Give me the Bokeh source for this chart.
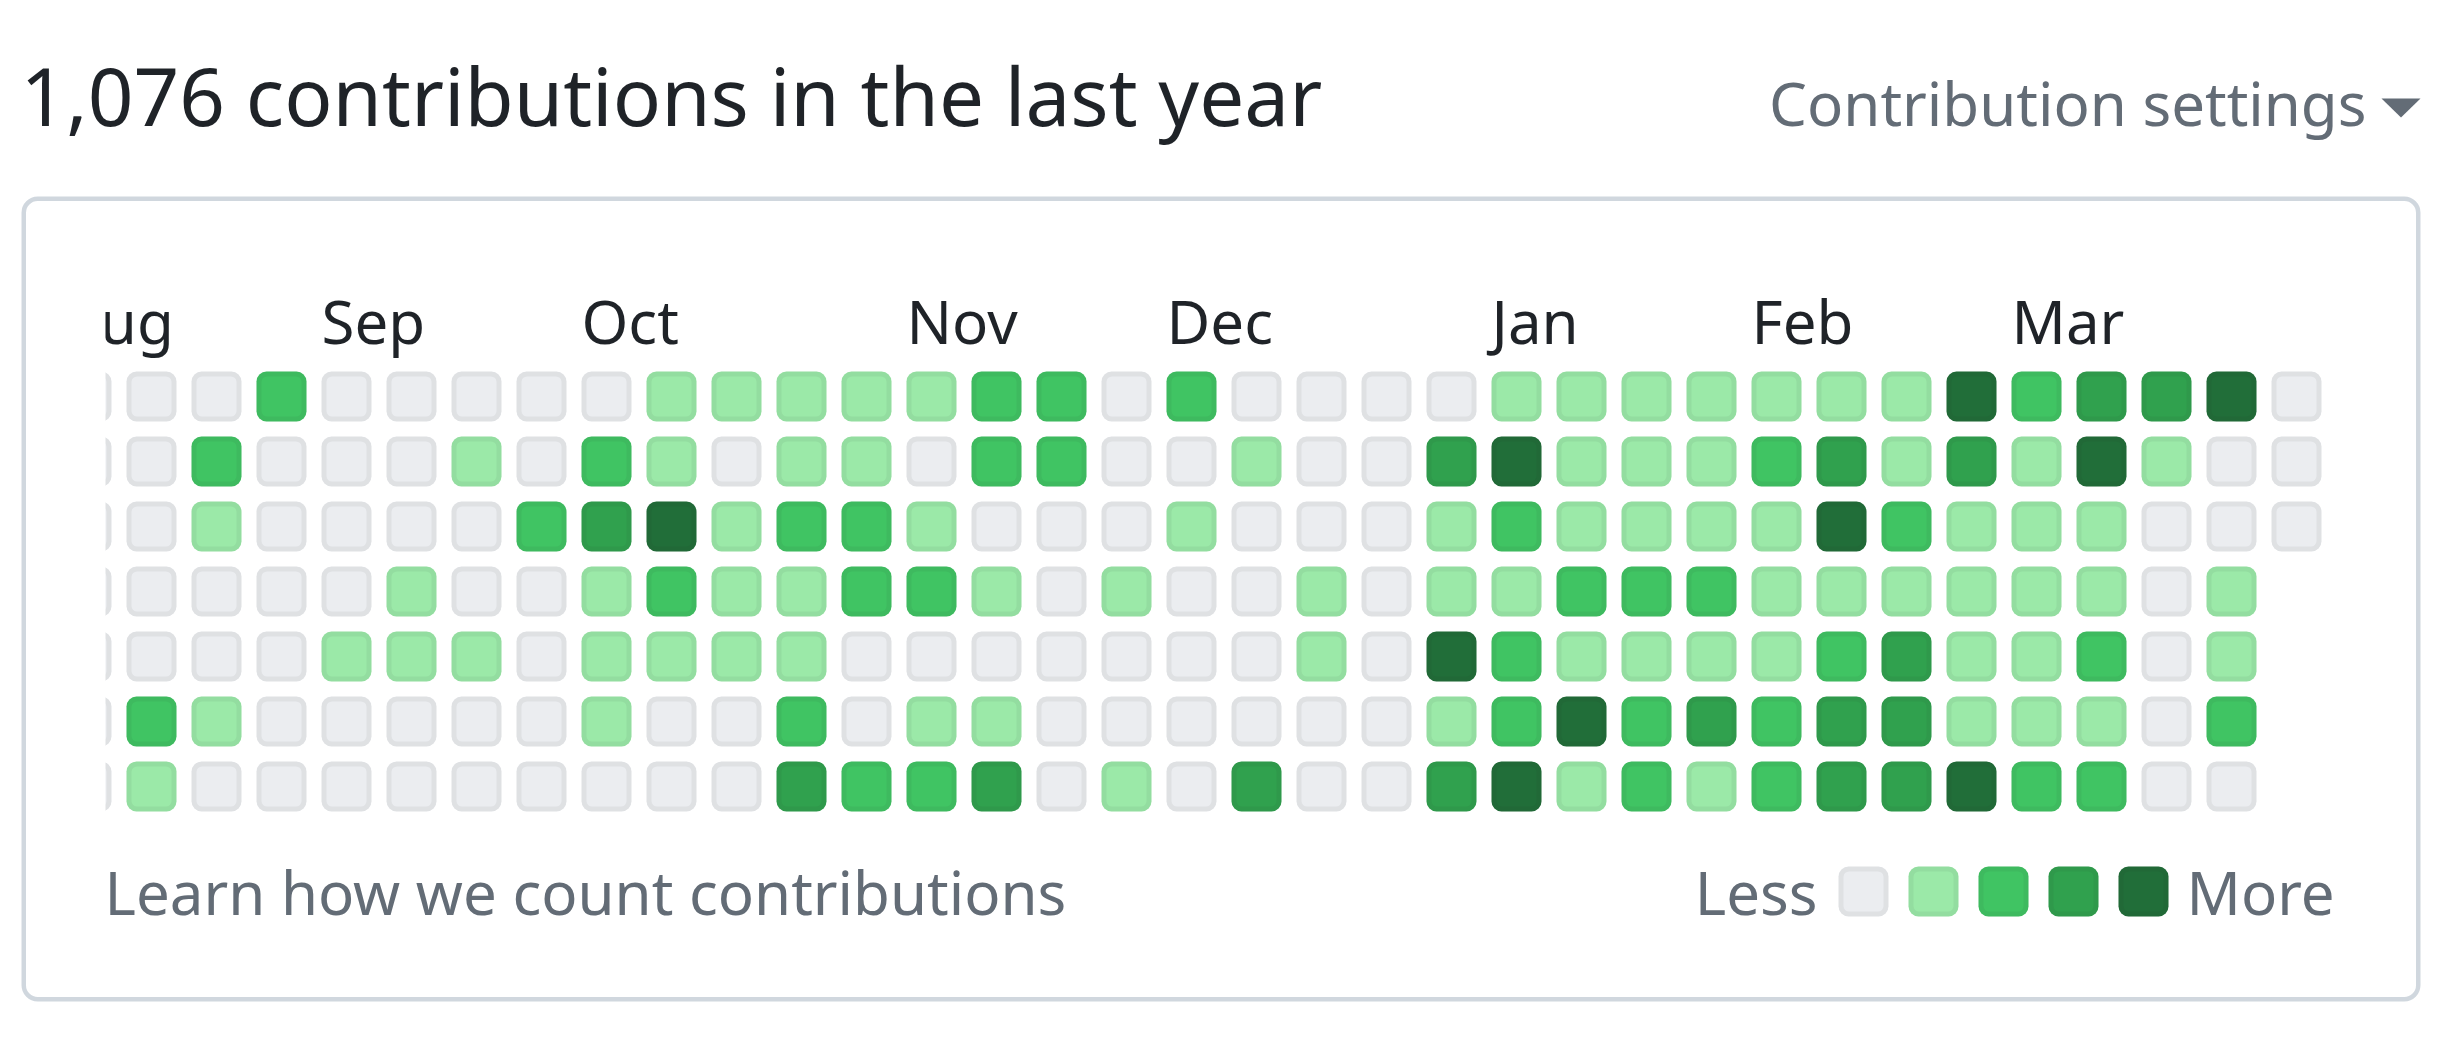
from bokeh.plotting import figure
from bokeh.models import Range1d, Label, ColumnDataSource
from bokeh.core.properties import value
from bokeh.embed import file_html
from bokeh.resources import INLINE

# ---------------- data ----------------
TITLE = "1,076 contributions in the last year"
SETTINGS = "Contribution settings"
FOOTER = "Learn how we count contributions"
LESS, MORE = "Less", "More"

months = ["Aug", "Sep", "Oct", "Nov", "Dec", "Jan", "Feb", "Mar"]
month_cols = [0, 4, 8, 13, 17, 22, 26, 30]

# contribution level (0-4) per week column, Sunday..Saturday
weeks = [
    [0, 0, 0, 0, 0, 0, 0],
    [0, 0, 0, 0, 0, 2, 1],
    [0, 2, 1, 0, 0, 1, 0],
    [2, 0, 0, 0, 0, 0, 0],
    [0, 0, 0, 0, 1, 0, 0],
    [0, 0, 0, 1, 1, 0, 0],
    [0, 1, 0, 0, 1, 0, 0],
    [0, 0, 2, 0, 0, 0, 0],
    [0, 2, 3, 1, 1, 1, 0],
    [1, 1, 4, 2, 1, 0, 0],
    [1, 0, 1, 1, 1, 0, 0],
    [1, 1, 2, 1, 1, 2, 3],
    [1, 1, 2, 2, 0, 0, 2],
    [1, 0, 1, 2, 0, 1, 2],
    [2, 2, 0, 1, 0, 1, 3],
    [2, 2, 0, 0, 0, 0, 0],
    [0, 0, 0, 1, 0, 0, 1],
    [2, 0, 1, 0, 0, 0, 0],
    [0, 1, 0, 0, 0, 0, 3],
    [0, 0, 0, 1, 1, 0, 0],
    [0, 0, 0, 0, 0, 0, 0],
    [0, 3, 1, 1, 4, 1, 3],
    [1, 4, 2, 1, 2, 2, 4],
    [1, 1, 1, 2, 1, 4, 1],
    [1, 1, 1, 2, 1, 2, 2],
    [1, 1, 1, 2, 1, 3, 1],
    [1, 2, 1, 1, 1, 2, 2],
    [1, 3, 4, 1, 2, 3, 3],
    [1, 1, 2, 1, 3, 3, 3],
    [4, 3, 1, 1, 1, 1, 4],
    [2, 1, 1, 1, 1, 1, 2],
    [3, 4, 1, 1, 2, 1, 2],
    [3, 1, 0, 0, 0, 0, 0],
    [4, 0, 0, 1, 1, 2, 0],
    [0, 0, 0],
]
level_colors = ["#ebedf0", "#9be9a8", "#40c463", "#30a14e", "#216e39"]
legend_levels = [0, 1, 2, 3, 4]

# ---------------- layout / style ----------------
W, H = 2461, 1041
PITCH, CELL, GX0, GY0 = 65.0, 50.0, 61.0, 371.0
FONT = value("Noto Sans")
DARK, MUTED = "#1f2328", "#636c76"


def X(px):
    return (px - GX0) / PITCH


def Y(py):
    return (py - GY0) / PITCH


p = figure(width=W, height=H, x_range=Range1d(X(0), X(W)), y_range=Range1d(Y(H), Y(0)),
           output_backend="svg", toolbar_location=None,
           x_axis_location=None, y_axis_location=None, min_border=0,
           outline_line_color=None, background_fill_color="white", border_fill_color="white")
p.grid.visible = False

c_ = CELL / PITCH
ins = 2.5 / PITCH
cols, rows, cols_c = [], [], []
for c, wk in enumerate(weeks):
    for r, v in enumerate(wk):
        cols.append(c)
        rows.append(r)
        cols_c.append(level_colors[v])
src = ColumnDataSource(dict(
    l=cols, r=[c + c_ for c in cols], t=rows, b=[r + c_ for r in rows],
    li=[c + ins for c in cols], ri=[c + c_ - ins for c in cols],
    ti=[r + ins for r in rows], bi=[r + c_ - ins for r in rows], color=cols_c))
p.quad(left="l", right="r", top="t", bottom="b", fill_color="color", line_color=None,
       border_radius=10, source=src)
p.quad(left="li", right="ri", top="ti", bottom="bi", fill_color=None, line_color="#1f2328",
       line_alpha=0.06, line_width=5, border_radius=8, source=src)

# month labels
p.text(x=month_cols, y=[Y(320)] * len(months), text=months, text_font=FONT,
       text_font_size="60px", text_color=DARK, text_baseline="alphabetic", text_align="left")

# mask for the scrolled-off part of the graph
p.quad(left=[X(27)], right=[X(105)], top=[Y(250)], bottom=[Y(840)], fill_color="white", line_color=None)

# outer box
p.quad(left=[X(23.25)], right=[X(2417.75)], top=[Y(198.25)], bottom=[Y(998.75)], fill_color=None,
       line_color="#d0d7de", line_width=4.5, border_radius=14)

# legend
lx0, lstep, ly0 = 1838.0, 70.0, 866.0
lsrc = ColumnDataSource(dict(
    l=[X(lx0 + lstep * i) for i in legend_levels],
    r=[X(lx0 + lstep * i + CELL) for i in legend_levels],
    li=[X(lx0 + lstep * i + 2.5) for i in legend_levels],
    ri=[X(lx0 + lstep * i + CELL - 2.5) for i in legend_levels],
    color=[level_colors[i] for i in legend_levels]))
p.quad(left="l", right="r", top=Y(ly0), bottom=Y(ly0 + CELL), fill_color="color", line_color=None,
       border_radius=10, source=lsrc)
p.quad(left="li", right="ri", top=Y(ly0 + 2.5), bottom=Y(ly0 + CELL - 2.5), fill_color=None,
       line_color="#1f2328", line_alpha=0.06, line_width=5, border_radius=8, source=lsrc)

# caret
p.patch(x=[X(2381), X(2420), X(2400.5)], y=[Y(98), Y(98), Y(117)], fill_color=MUTED, line_color=None)


def lab(x, y, text, size, color, align="left"):
    p.add_layout(Label(x=X(x), y=Y(y), text=text, text_font="Noto Sans", text_font_size=size,
                       text_color=color, text_align=align, text_baseline="alphabetic"))


lab(20, 94, TITLE, "80px", DARK)
lab(2366, 102, SETTINGS, "60px", MUTED, "right")
lab(104, 891, FOOTER, "60px", MUTED)
lab(1817, 891, LESS, "60px", MUTED, "right")
lab(2186, 891, MORE, "60px", MUTED)

open("out.html", "w").write(file_html(p, INLINE))
